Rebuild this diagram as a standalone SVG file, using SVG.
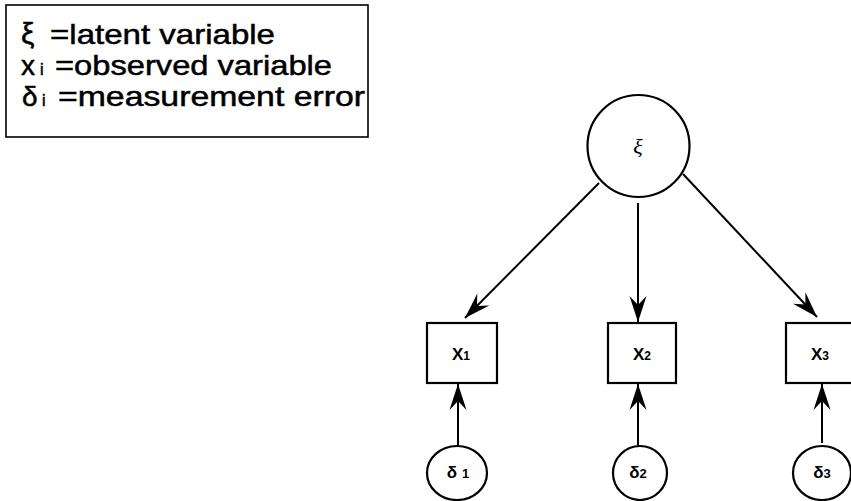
<svg xmlns="http://www.w3.org/2000/svg" width="851" height="501" viewBox="0 0 851 501">
<style>
.lg{font-family:"Liberation Sans",Arial,sans-serif;font-size:28px;fill:#000;stroke:#000;stroke-width:0.5}
.sub{font-size:16px}
.nd{fill:#fff;stroke:#000;stroke-width:2.2}
.lbl{font-family:"Liberation Sans",Arial,sans-serif;font-weight:bold;font-size:17px;fill:#000;text-anchor:middle}
.cn{stroke:#000;stroke-width:2;fill:none;marker-end:url(#ah)}
</style>
<defs>
<marker id="ah" markerUnits="userSpaceOnUse" markerWidth="30" markerHeight="20" viewBox="-27 -10 29 20" refX="0" refY="0" orient="auto">
<path d="M0,0 L-26,-8.5 L-17,0 L-26,8.5 Z" fill="#000"/>
</marker>
</defs>
<rect x="0" y="0" width="851" height="501" fill="#fff"/>
<g id="legend">
<rect x="6" y="5" width="362" height="132" fill="#fff" stroke="#000" stroke-width="1.6"/>
<text class="lg" y="44"><tspan x="21" font-size="30">ξ</tspan><tspan x="50" textLength="225" lengthAdjust="spacingAndGlyphs">=latent variable</tspan></text>
<text class="lg" y="75"><tspan x="21">x</tspan><tspan x="40" class="sub">i</tspan><tspan x="55" textLength="277" lengthAdjust="spacingAndGlyphs">=observed variable</tspan></text>
<text class="lg" y="106"><tspan x="22">δ</tspan><tspan x="42" class="sub">i</tspan><tspan x="58" textLength="307" lengthAdjust="spacingAndGlyphs">=measurement error</tspan></text>
</g>
<g id="connectors">
<line class="cn" x1="599" y1="183" x2="465" y2="318"/>
<line class="cn" x1="638" y1="203" x2="638" y2="322"/>
<line class="cn" x1="683" y1="174" x2="817" y2="317"/>
<line class="cn" x1="458" y1="447" x2="458" y2="384"/>
<line class="cn" x1="638" y1="447" x2="638" y2="384"/>
<line class="cn" x1="822" y1="443" x2="822" y2="384"/>
</g>
<g id="xi">
<circle class="nd" cx="638.5" cy="146" r="51"/>
<text x="638" y="154" font-family="'Liberation Serif','Times New Roman',serif" font-style="italic" font-size="22" text-anchor="middle">ξ</text>
</g>
<g id="x1">
<rect class="nd" x="427" y="323" width="70" height="60" stroke-width="2.6"/>
<text class="lbl" x="461" y="360">X<tspan font-size="12">1</tspan></text>
</g>
<g id="x2">
<rect class="nd" x="608" y="323" width="68" height="60" stroke-width="2.6"/>
<text class="lbl" x="642" y="360">X<tspan font-size="12">2</tspan></text>
</g>
<g id="x3">
<rect class="nd" x="786" y="323" width="70" height="60" stroke-width="2.6"/>
<text class="lbl" x="820" y="360">X<tspan font-size="12">3</tspan></text>
</g>
<g id="d1">
<ellipse class="nd" cx="457" cy="473" rx="30" ry="27"/>
<text class="lbl" x="458" y="478" font-size="16">δ <tspan font-size="13">1</tspan></text>
</g>
<g id="d2">
<ellipse class="nd" cx="640" cy="473" rx="27" ry="27"/>
<text class="lbl" x="638" y="478" font-size="16">δ<tspan font-size="13">2</tspan></text>
</g>
<g id="d3">
<ellipse class="nd" cx="822" cy="473" rx="29" ry="27"/>
<text class="lbl" x="822" y="478" font-size="16">δ<tspan font-size="13">3</tspan></text>
</g>
</svg>
